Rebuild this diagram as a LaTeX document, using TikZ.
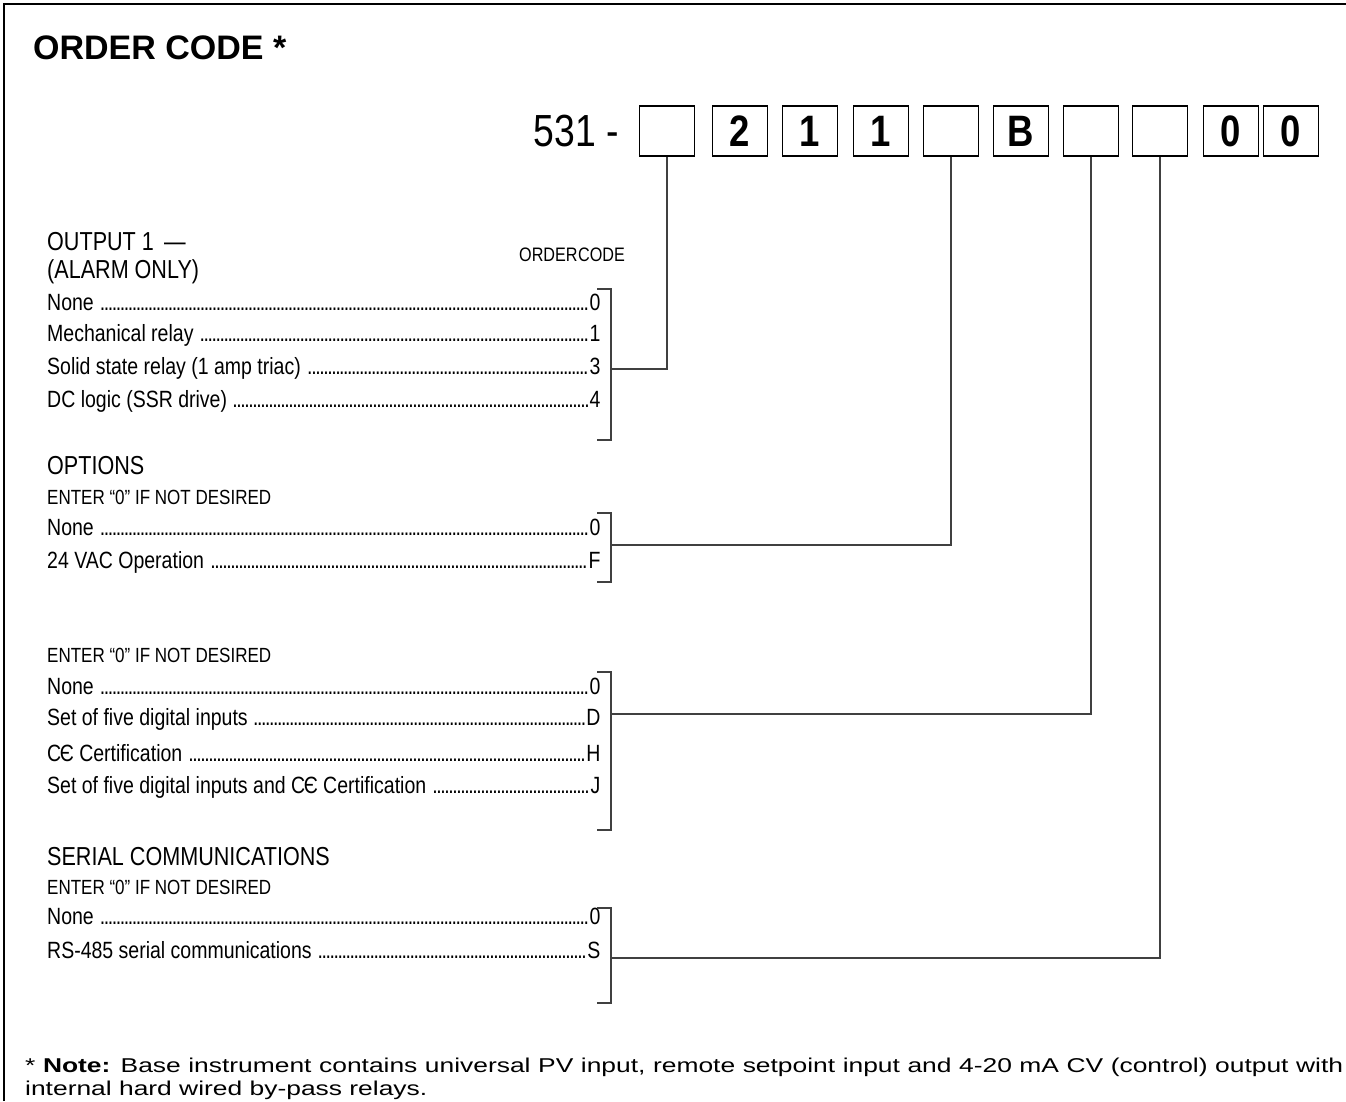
\documentclass[tikz,border=0pt]{standalone}
\usepackage{fontspec}
\setmainfont{Liberation Sans}
\newfontfamily\narrowfont{Liberation Sans}[FakeStretch=0.83]
\newfontfamily\notefont{Liberation Sans}[FakeStretch=1.32]
\usetikzlibrary{positioning,calc}

\newcommand{\leaderdots}{\leavevmode\cleaders\hbox to 0.17em{\hss.\hss}\hfill}
\newcommand{\cemark}{{C\kern-0.06em Є}}
\newcommand{\entry}[2]{\hbox to 553pt{#1\ \leaderdots#2}}

\tikzset{
  codebox/.style={draw, line width=1.2pt, minimum width=55pt, minimum height=50pt, inner sep=0pt,
    font=\narrowfont\bfseries\fontsize{44}{44}\selectfont},
  item/.style={anchor=west, inner sep=0pt, font=\narrowfont\fontsize{23.5}{28}\selectfont},
  heading/.style={anchor=west, inner sep=0pt, font=\narrowfont\fontsize{26}{28}\selectfont},
  hint/.style={anchor=west, inner sep=0pt, font=\narrowfont\fontsize{20.5}{24}\selectfont},
  link/.style={draw=black!75, line width=1.1pt},
}

\begin{document}
\begin{tikzpicture}[x=1pt, y=-1pt]
  \useasboundingbox (0,0) rectangle (1346,1101);
  % Frame
  \draw[line width=2pt] (4,1101) -- (4,4) -- (1346,4);

  % Title
  \node[anchor=west, inner sep=0pt, font=\bfseries\fontsize{34}{34}\selectfont] (title) at (33,48) {ORDER CODE *};

  % Code boxes
  \node[anchor=east, inner sep=0pt, font=\narrowfont\fontsize{45}{45}\selectfont] (base) at (619,131) {531 -};
  \node[codebox] (b1) at (667,131) {};
  \node[codebox] (b2) at (740,131) {2};
  \node[codebox] (b3) at (810,131) {1};
  \node[codebox] (b4) at (881,131) {1};
  \node[codebox] (b5) at (951,131) {};
  \node[codebox] (b6) at (1021,131) {B};
  \node[codebox] (b7) at (1091,131) {};
  \node[codebox] (b8) at (1160,131) {};
  \node[codebox] (b9) at (1231,131) {0};
  \node[codebox] (b10) at (1291,131) {0};

  % Output 1
  \node[heading] (out1) at (47,242) {OUTPUT 1 \,—};
  \node[heading] (alarm) at (47,272) {(ALARM ONLY)};
  \node[hint, font=\narrowfont\fontsize{19.5}{24}\selectfont] (ocode) at (519,255) {ORDER\kern0.5pt CODE};
  \node[item] (o1a) at (47,302) {\entry{None}{0}};
  \node[item] (o1b) at (47,335) {\entry{Mechanical relay}{1}};
  \node[item] (o1c) at (47,368) {\entry{Solid state relay (1 amp triac)}{3}};
  \node[item] (o1d) at (47,401) {\entry{DC logic (SSR drive)}{4}};
  \draw[link] (597,289) -- (611,289) -- (611,440) -- (597,440);
  \coordinate (j1) at (611,369);
  \draw[link] (j1) -| (b1.south);

  % Options
  \node[heading] (opt) at (47,466) {OPTIONS};
  \node[hint] (opthint) at (47,497) {ENTER “0” IF NOT DESIRED};
  \node[item] (o2a) at (47,527) {\entry{None}{0}};
  \node[item] (o2b) at (47,562) {\entry{24 VAC Operation}{F}};
  \draw[link] (597,513) -- (611,513) -- (611,582) -- (597,582);
  \coordinate (j2) at (611,545);
  \draw[link] (j2) -| (b5.south);

  % Digital inputs
  \node[hint] (dighint) at (47,655) {ENTER “0” IF NOT DESIRED};
  \node[item] (o3a) at (47,686) {\entry{None}{0}};
  \node[item] (o3b) at (47,719) {\entry{Set of five digital inputs}{D}};
  \node[item] (o3c) at (47,753) {\entry{\cemark\ Certification}{H}};
  \node[item] (o3d) at (47,787) {\entry{Set of five digital inputs and \cemark\ Certification}{J}};
  \draw[link] (597,672) -- (611,672) -- (611,830) -- (597,830);
  \coordinate (j3) at (611,714);
  \draw[link] (j3) -| (b7.south);

  % Serial communications
  \node[heading] (ser) at (47,857) {SERIAL COMMUNICATIONS};
  \node[hint] (serhint) at (47,887) {ENTER “0” IF NOT DESIRED};
  \node[item] (o4a) at (47,916) {\entry{None}{0}};
  \node[item] (o4b) at (47,950) {\entry{RS-485 serial communications}{S}};
  \draw[link] (597,908) -- (611,908) -- (611,1003) -- (597,1003);
  \coordinate (j4) at (611,958);
  \draw[link] (j4) -| (b8.south);

  % Note
  \node[anchor=north west, text width=1318pt, align=justify, inner sep=0pt, font=\notefont\fontsize{20}{23}\selectfont] (note) at (25,1058)
    {* \textbf{Note:} Base instrument contains universal PV input, remote setpoint input and 4-20 mA CV (control) output with\linebreak
     internal hard wired by-pass relays.};
\end{tikzpicture}
\end{document}
